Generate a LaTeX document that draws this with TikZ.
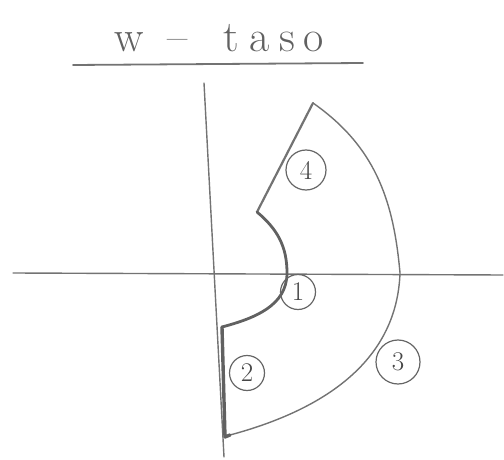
\documentclass[tikz,border=0pt]{standalone}
\usepackage{fontspec}
\begin{document}
\begin{tikzpicture}[x=1pt,y=1pt,
  pencil/.style={draw=black!55, line width=1.4pt, line cap=round, line join=round},
  heavy/.style={draw=black!62, line width=2.8pt, line cap=round, line join=round},
  lbl/.style={draw=black!60, line width=1.2pt, circle, inner sep=1pt, minimum size=35pt, font=\fontsize{27}{27}\selectfont, text=black!72}]
\useasboundingbox (0,0) rectangle (504,459);
% title
\node[text=black!62, font=\fontsize{44}{46}\selectfont, inner sep=0pt] (title) at (219,421) {w\hspace{24pt}--\hspace{36pt}t\hspace{10pt}a\hspace{10pt}s\hspace{8pt}o};
\coordinate (ulL) at (73,394);
\coordinate (ulR) at (363,396);
\draw[pencil, line width=1.8pt] (ulL) -- (ulR);
% axes
\coordinate (vTop) at (204,376);
\coordinate (vBot) at (224,2);
\coordinate (hL) at (13,186);
\coordinate (hR) at (503,184);
\draw[pencil] (vTop) -- (vBot);
\draw[pencil] (hL) -- (hR);
% shape points
\coordinate (T) at (313,356);
\coordinate (C) at (257,247);
\coordinate (I1) at (287,186);
\coordinate (Ie) at (222,132);
\coordinate (B2) at (225,22);
\coordinate (R) at (400,186);
\coordinate (Be) at (230,24);
% outer arc (3)
\draw[pencil] (T) to[out=-35,in=95] (R) to[out=-92,in=15] (Be);
% segment 4
\draw[pencil, line width=2.2pt] (C) -- (T);
% inner arc 1
\draw[heavy] (C) to[out=-40,in=90] (I1) to[out=-90,in=15] (Ie);
% segment 2
\draw[heavy, line width=3.4pt] (Ie) -- (B2) -- (Be);
% labels
\node[lbl, minimum width=40pt] (n4) at (306,289) {4};
\node[lbl] (n1) at (298,167) {1};
\node[lbl] (n2) at (247,86) {2};
\node[lbl, minimum size=44pt] (n3) at (398,97) {3};
\end{tikzpicture}
\end{document}
